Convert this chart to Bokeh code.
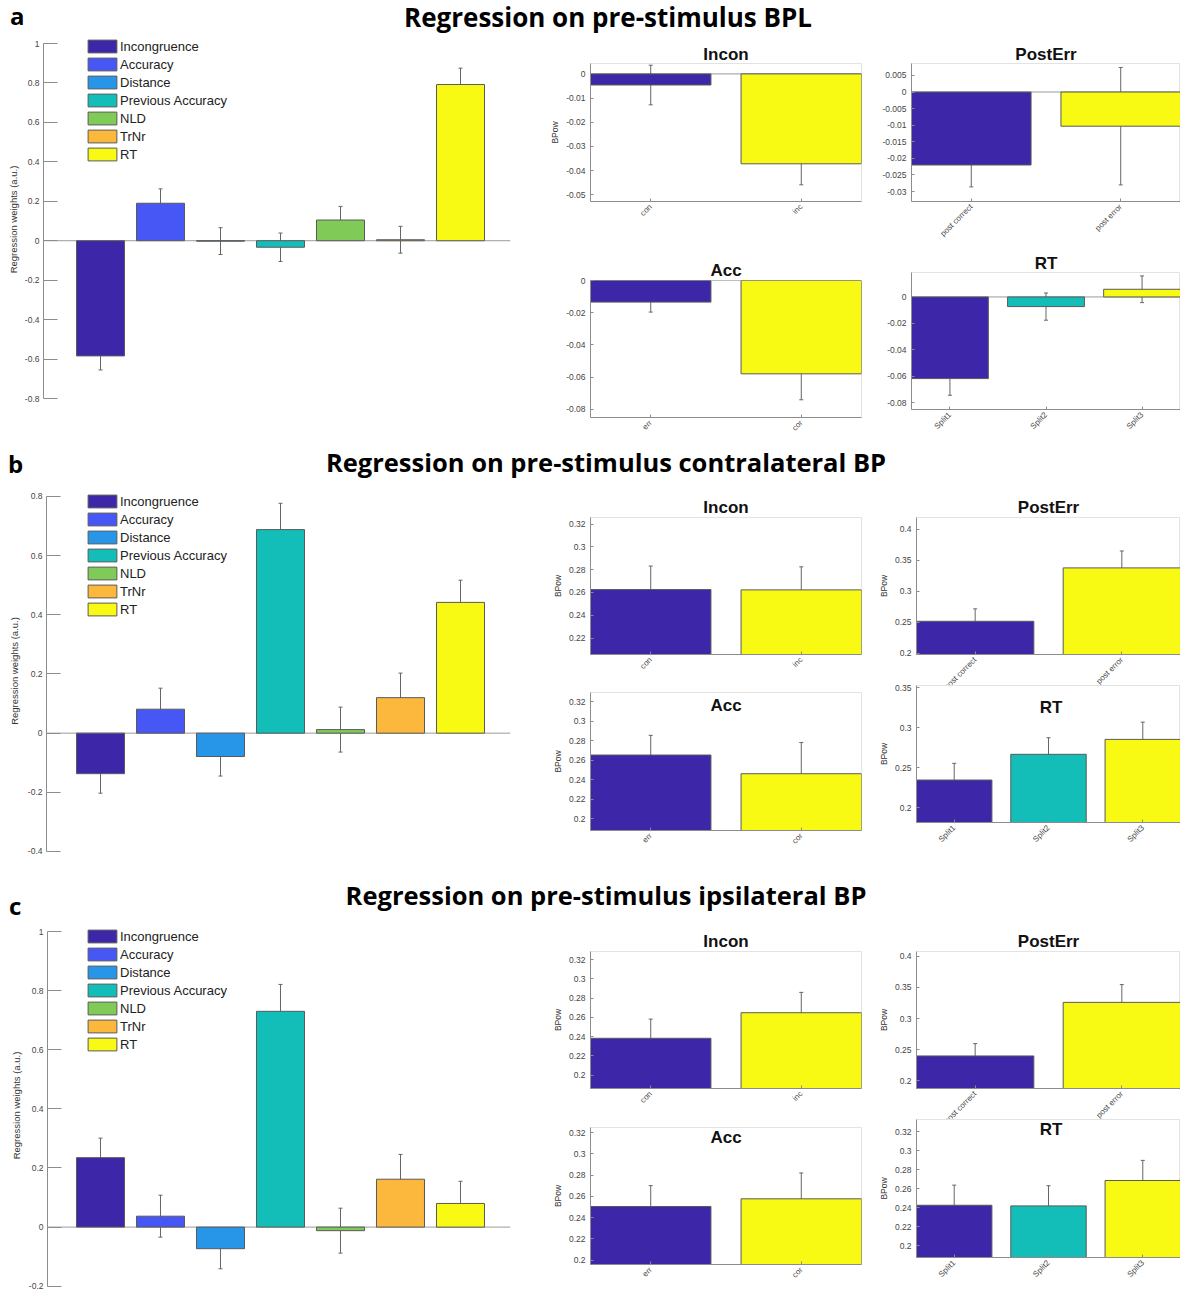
import math
from bokeh.plotting import figure
from bokeh.models import (Range1d, ColumnDataSource, Whisker, TeeHead, Span, Label,
                          Legend, LegendItem, FixedTicker, Div)
from bokeh.layouts import row, column
from bokeh.embed import file_html
from bokeh.resources import INLINE

# ---------------- data ----------------
regressors = ["Incongruence", "Accuracy", "Distance", "Previous Accuracy", "NLD", "TrNr", "RT"]
reg_colors = ["#3E26A8", "#4757F5", "#2796E8", "#13BEB8", "#80CB58", "#FCB83C", "#F9FA14"]

bpl_weights = [-0.584, 0.190, -0.002, -0.033, 0.105, 0.005, 0.792]
bpl_errors = [0.071, 0.073, 0.068, 0.072, 0.069, 0.068, 0.083]
contra_weights = [-0.137, 0.081, -0.079, 0.688, 0.012, 0.120, 0.442]
contra_errors = [0.066, 0.071, 0.066, 0.089, 0.076, 0.083, 0.075]
ipsi_weights = [0.235, 0.037, -0.073, 0.730, -0.012, 0.162, 0.080]
ipsi_errors = [0.066, 0.071, 0.068, 0.091, 0.076, 0.084, 0.075]

incon_cats = ["con", "inc"]
acc_cats = ["err", "cor"]
posterr_cats = ["post correct", "post error"]
rt_cats = ["Split1", "Split2", "Split3"]
two_colors = ["#3E26A8", "#F9FA14"]
three_colors = ["#3E26A8", "#13BEB8", "#F9FA14"]

bpl_incon, bpl_incon_err = [-0.0046, -0.0372], [0.0082, 0.0087]
bpl_posterr, bpl_posterr_err = [-0.0220, -0.0103], [0.0066, 0.0177]
bpl_acc, bpl_acc_err = [-0.0134, -0.0579], [0.0062, 0.0161]
bpl_rt, bpl_rt_err = [-0.0618, -0.0073, 0.0058], [0.0126, 0.0103, 0.0101]

contra_incon, contra_incon_err = [0.2626, 0.2623], [0.0206, 0.0202]
contra_posterr, contra_posterr_err = [0.2516, 0.3377], [0.0200, 0.0273]
contra_acc, contra_acc_err = [0.2655, 0.2463], [0.0202, 0.0320]
contra_rt, contra_rt_err = [0.2345, 0.2667, 0.2854], [0.0209, 0.0208, 0.0216]

ipsi_incon, ipsi_incon_err = [0.2383, 0.2648], [0.0199, 0.0211]
ipsi_posterr, ipsi_posterr_err = [0.2400, 0.3259], [0.0198, 0.0285]
ipsi_acc, ipsi_acc_err = [0.2505, 0.2577], [0.0196, 0.0243]
ipsi_rt, ipsi_rt_err = [0.2427, 0.2420, 0.2688], [0.0212, 0.0213, 0.0212]

# tick values and tick labels
ticks_a_left = [-0.8, -0.6, -0.4, -0.2, 0, 0.2, 0.4, 0.6, 0.8, 1]
labels_a_left = ["-0.8", "-0.6", "-0.4", "-0.2", "0", "0.2", "0.4", "0.6", "0.8", "1"]
ticks_b_left = [-0.4, -0.2, 0, 0.2, 0.4, 0.6, 0.8]
labels_b_left = ["-0.4", "-0.2", "0", "0.2", "0.4", "0.6", "0.8"]
ticks_c_left = [-0.2, 0, 0.2, 0.4, 0.6, 0.8, 1]
labels_c_left = ["-0.2", "0", "0.2", "0.4", "0.6", "0.8", "1"]

ticks_a_incon = [-0.05, -0.04, -0.03, -0.02, -0.01, 0]
labels_a_incon = ["-0.05", "-0.04", "-0.03", "-0.02", "-0.01", "0"]
ticks_a_posterr = [-0.03, -0.025, -0.02, -0.015, -0.01, -0.005, 0, 0.005]
labels_a_posterr = ["-0.03", "-0.025", "-0.02", "-0.015", "-0.01", "-0.005", "0", "0.005"]
ticks_a_acc = [-0.08, -0.06, -0.04, -0.02, 0]
labels_a_acc = ["-0.08", "-0.06", "-0.04", "-0.02", "0"]
ticks_a_rt = [-0.08, -0.06, -0.04, -0.02, 0]
labels_a_rt = ["-0.08", "-0.06", "-0.04", "-0.02", "0"]

ticks_02_032 = [0.2, 0.22, 0.24, 0.26, 0.28, 0.3, 0.32]
labels_02_032 = ["0.2", "0.22", "0.24", "0.26", "0.28", "0.3", "0.32"]
ticks_02_04 = [0.2, 0.25, 0.3, 0.35, 0.4]
labels_02_04 = ["0.2", "0.25", "0.3", "0.35", "0.4"]

# axis limits
ylim_a_left, ylim_b_left, ylim_c_left = (-0.8101, 1.0254), (-0.4068, 0.827), (-0.2043, 1.0271)
ylim_a_incon, ylim_a_posterr = (-0.0528, 0.0043), (-0.0330, 0.0086)
ylim_a_acc, ylim_a_rt = (-0.0850, 0.0), (-0.0852, 0.0185)
ylim_b_incon, ylim_b_posterr = (0.2056, 0.3258), (0.1980, 0.4190)
ylim_b_acc, ylim_b_rt = (0.1880, 0.3297), (0.1813, 0.3529)
ylim_c_incon, ylim_c_posterr = (0.1862, 0.3283), (0.1878, 0.4075)
ylim_c_acc, ylim_c_rt = (0.1960, 0.3247), (0.1876, 0.3331)

# ---------------- style ----------------
FONT = "Liberation Sans"
AX = "#8c8c8c"
TXT = "#454545"
EDGE = "#5a5a5a"
ERR = "#666666"
BOX = "#e3e3e3"
TOTAL_W = 1180


def style_axis(ax, ticks, labels, tick_len, size="8.5px"):
    ax.ticker = FixedTicker(ticks=ticks)
    ax.major_label_overrides = dict(zip(ticks, labels))
    ax.minor_tick_line_color = None
    ax.major_tick_in = tick_len
    ax.major_tick_out = 0
    ax.axis_line_color = AX
    ax.major_tick_line_color = AX
    ax.major_label_text_font = FONT
    ax.major_label_text_font_size = size
    ax.major_label_text_color = TXT
    ax.axis_label_text_font = FONT
    ax.axis_label_text_font_style = "normal"
    ax.axis_label_text_color = "#333333"


def make_fig(w, h, mbl, mbr, mbt, mbb, xr, yr, xaxis=True):
    p = figure(width=w, height=h, x_range=Range1d(*xr), y_range=Range1d(*yr),
               output_backend="svg", toolbar_location=None, title="",
               x_axis_location="below" if xaxis else None,
               min_border_left=mbl, min_border_right=mbr,
               min_border_top=mbt, min_border_bottom=mbb)
    p.grid.visible = False
    p.background_fill_color = "white"
    p.border_fill_color = "white"
    return p


def add_bars(p, xs, vals, errs, colors, width=0.8):
    src = ColumnDataSource(dict(x=xs, top=vals,
                                upper=[v + e for v, e in zip(vals, errs)],
                                lower=[v - e for v, e in zip(vals, errs)],
                                color=colors))
    p.add_layout(Whisker(source=src, base="x", upper="upper", lower="lower",
                         line_color=ERR, line_width=1, level="underlay",
                         upper_head=TeeHead(size=4, line_color=ERR, line_width=1),
                         lower_head=TeeHead(size=4, line_color=ERR, line_width=1)))
    r = p.vbar(x="x", top="top", bottom=0, width=width, fill_color="color",
               line_color=EDGE, line_width=1, source=src)
    return r


def left_panel(weights, errors, h, mbl, mbb, xstart, yr, ticks, labels, leg_loc, lab_standoff):
    w, mbr, mbt = 545, 35, 0
    fw = w - mbl - mbr
    xr = (xstart, xstart + fw / 60.0)
    p = make_fig(w, h, mbl, mbr, mbt, mbb, xr, yr, xaxis=False)
    p.title.visible = False
    p.outline_line_color = None
    p.add_layout(Span(location=0, dimension="width", line_color="#9a9a9a",
                      line_width=1, level="underlay"))
    xs = list(range(1, len(regressors) + 1))
    r = add_bars(p, xs, weights, errors, reg_colors)
    ax = p.yaxis[0]
    style_axis(ax, ticks, labels, 14)
    ax.bounds = (ticks[0], ticks[-1])
    ax.major_label_standoff = 4
    ax.axis_label = "Regression weights (a.u.)"
    ax.axis_label_text_font_size = "9.5px"
    ax.axis_label_standoff = lab_standoff
    legend = Legend(items=[LegendItem(label=n, renderers=[r], index=i)
                           for i, n in enumerate(regressors)],
                    location=leg_loc, orientation="vertical",
                    glyph_width=36, glyph_height=16, label_height=15, spacing=2,
                    padding=0, margin=0, label_standoff=0,
                    label_text_font=FONT, label_text_font_size="13px",
                    label_text_color="#222222",
                    border_line_color=None, background_fill_alpha=0)
    p.add_layout(legend)
    return p


def small_panel(cats, vals, errs, colors, yr, ticks, labels, col, h, mbt, mbb,
                title, title_gap, inside=False, ylabel=True, zero=False):
    if col == 1:
        w, mbl, mbr = 330, 45, 14
    else:
        w, mbl, mbr = 305, 36, 0
    n = len(cats)
    p = make_fig(w, h, mbl, mbr, mbt, mbb, (0.6, n + 0.4), yr)
    p.outline_line_color = BOX
    p.outline_line_width = 1
    if zero:
        p.add_layout(Span(location=0, dimension="width", line_color="#9a9a9a",
                          line_width=1, level="underlay"))
    xs = list(range(1, n + 1))
    add_bars(p, xs, vals, errs, colors)
    yax = p.yaxis[0]
    style_axis(yax, ticks, labels, 3)
    yax.major_label_standoff = 5
    if ylabel:
        yax.axis_label = "BPow"
        yax.axis_label_text_font_size = "8.5px"
        yax.axis_label_standoff = 3
    xax = p.xaxis[0]
    style_axis(xax, xs, cats, 3, size="8px")
    xax.major_label_orientation = math.pi / 4
    xax.major_label_standoff = 4
    fw = w - mbl - mbr
    fh = h - mbt - mbb
    if inside:
        p.title.visible = False
        p.add_layout(Label(x=fw / 2.0, y=fh - title_gap + 6.5, x_units="screen", y_units="screen",
                           text=title, text_align="center", text_baseline="alphabetic",
                           text_font=FONT, text_font_style="bold", text_font_size="17px",
                           text_color="#111111"))
    else:
        p.title.text = title
        p.title.align = "center"
        p.title.text_font = FONT
        p.title.text_font_style = "bold"
        p.title.text_font_size = "17px"
        p.title.text_color = "#111111"
        p.title.standoff = max(0, title_gap - 4)
    return p


def title_div(h, letter, l_left, l_base, text, t_center, t_base, fs_t):
    fs_l = 24
    html = (
        '<div style="position:relative;width:%dpx;height:%dpx;font-family:\'Open Sans\';'
        'font-weight:700;color:#000;">' % (TOTAL_W, h)
        + '<div style="position:absolute;left:%dpx;top:%.1fpx;font-size:%dpx;line-height:%dpx;">%s</div>'
        % (l_left, l_base - 0.888 * fs_l, fs_l, fs_l, letter)
        + '<div style="position:absolute;left:%dpx;width:1200px;text-align:center;top:%.1fpx;'
          'font-size:%.1fpx;line-height:%.1fpx;white-space:nowrap;">%s</div>'
        % (t_center - 600, t_base - 0.888 * fs_t, fs_t, fs_t, text)
        + '</div>')
    return Div(text=html, width=TOTAL_W, height=h, margin=(0, 0, 0, 0))


# ---------------- section a ----------------
ta = title_div(38, "a", 10, 25, "Regression on pre-stimulus BPL", 608, 27, 26)
la = left_panel(bpl_weights, bpl_errors, 407, 43, 45, 0.05, ylim_a_left,
                ticks_a_left, labels_a_left, (41, 238), 3)
a_incon = small_panel(incon_cats, bpl_incon, bpl_incon_err, two_colors, ylim_a_incon,
                      ticks_a_incon, labels_a_incon, 1, 212, 25, 49, "Incon", 4, zero=True)
a_acc = small_panel(acc_cats, bpl_acc, bpl_acc_err, two_colors, ylim_a_acc,
                    ticks_a_acc, labels_a_acc, 1, 195, 30, 28, "Acc", 5, ylabel=False, zero=True)
a_post = small_panel(posterr_cats, bpl_posterr, bpl_posterr_err, two_colors, ylim_a_posterr,
                     ticks_a_posterr, labels_a_posterr, 2, 212, 25, 49, "PostErr", 4,
                     ylabel=False, zero=True)
a_rt = small_panel(rt_cats, bpl_rt, bpl_rt_err, three_colors, ylim_a_rt,
                   ticks_a_rt, labels_a_rt, 2, 195, 22, 36, "RT", 4, ylabel=False, zero=True)
sec_a = column(ta, row(la, column(a_incon, a_acc), column(a_post, a_rt)))

# ---------------- section b ----------------
tb = title_div(43, "b", 8, 28, "Regression on pre-stimulus contralateral BP", 606, 28, 25.5)
lb = left_panel(contra_weights, contra_errors, 392, 46, 27, 0.1, ylim_b_left,
                ticks_b_left, labels_b_left, (38, 236), 5)
b_incon = small_panel(incon_cats, contra_incon, contra_incon_err, two_colors, ylim_b_incon,
                      ticks_02_032, labels_02_032, 1, 197, 29, 31, "Incon", 6)
b_acc = small_panel(acc_cats, contra_acc, contra_acc_err, two_colors, ylim_b_acc,
                    ticks_02_032, labels_02_032, 1, 195, 7, 50, "Acc", 19.4, inside=True)
b_post = small_panel(posterr_cats, contra_posterr, contra_posterr_err, two_colors, ylim_b_posterr,
                     ticks_02_04, labels_02_04, 2, 215, 29, 49, "PostErr", 6)
b_rt = small_panel(rt_cats, contra_rt, contra_rt_err, three_colors, ylim_b_rt,
                   ticks_02_04, labels_02_04, 2, 196, 1, 58, "RT", 28.3, inside=True)
b_rt.margin = (-19, 0, 0, 0)
sec_b = column(tb, row(lb, column(b_incon, b_acc), column(b_post, b_rt)))

# ---------------- section c ----------------
tc = title_div(43, "c", 9, 35, "Regression on pre-stimulus ipsilateral BP", 606, 26, 25.5)
lc = left_panel(ipsi_weights, ipsi_errors, 368, 47, 4, 0.1167, ylim_c_left,
                ticks_c_left, labels_c_left, (37, 235), 4)
c_incon = small_panel(incon_cats, ipsi_incon, ipsi_incon_err, two_colors, ylim_c_incon,
                      ticks_02_032, labels_02_032, 1, 196, 28, 31, "Incon", 5)
c_acc = small_panel(acc_cats, ipsi_acc, ipsi_acc_err, two_colors, ylim_c_acc,
                    ticks_02_032, labels_02_032, 1, 172, 8, 27, "Acc", 16.6, inside=True)
c_post = small_panel(posterr_cats, ipsi_posterr, ipsi_posterr_err, two_colors, ylim_c_posterr,
                     ticks_02_04, labels_02_04, 2, 214, 28, 49, "PostErr", 5)
c_rt = small_panel(rt_cats, ipsi_rt, ipsi_rt_err, three_colors, ylim_c_rt,
                   ticks_02_032, labels_02_032, 2, 173, 1, 34, "RT", 16.7, inside=True)
c_rt.margin = (-19, 0, 0, 0)
sec_c = column(tc, row(lc, column(c_incon, c_acc), column(c_post, c_rt)))

layout = column(sec_a, sec_b, sec_c)

with open("out.html", "w") as f:
    f.write(file_html(layout, INLINE))
